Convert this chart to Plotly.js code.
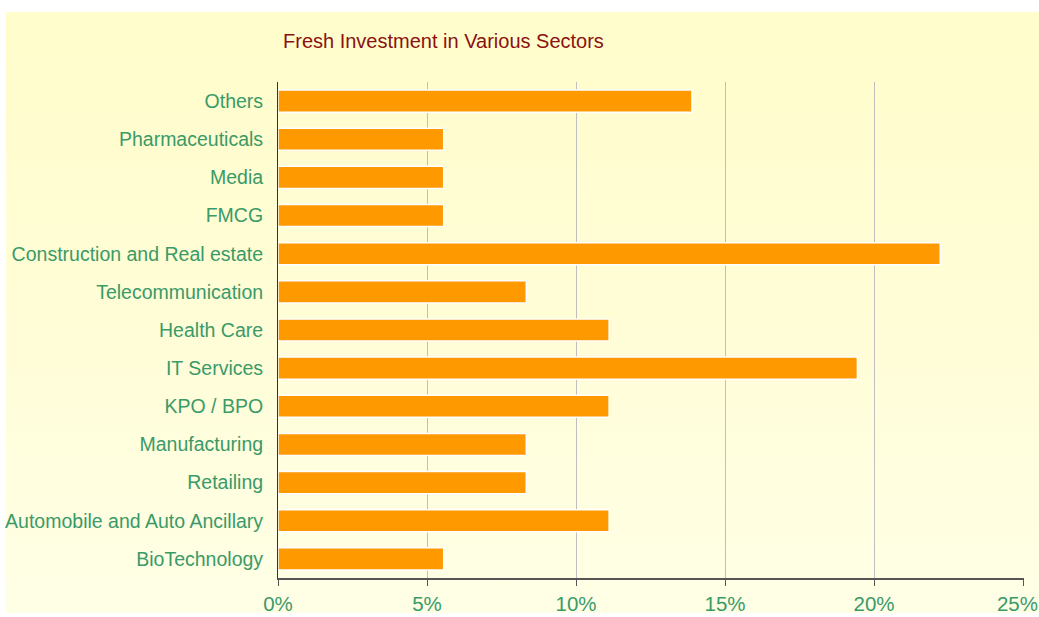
<!DOCTYPE html>
<html>
<head>
<meta charset="utf-8">
<script src="https://cdn.plot.ly/plotly-3.0.1.min.js"></script>
<style>
html, body { margin: 0; padding: 0; background: #ffffff; }
#wrap { position: relative; width: 1039px; height: 617px; }
#bg { position: absolute; left: 6px; top: 12px; width: 1033px; height: 601px;
  background: linear-gradient(to bottom, #FFFDCB 0%, #FFFDD6 50%, #FFFFE6 100%); }
#chart { position: absolute; left: 0; top: 0; width: 1039px; height: 617px; }
</style>
</head>
<body>
<div id="wrap"><div id="bg"></div><div id="chart"></div></div>
<script>
const categories = [
  "BioTechnology",
  "Automobile and Auto Ancillary",
  "Retailing",
  "Manufacturing",
  "KPO / BPO",
  "IT Services",
  "Health Care",
  "Telecommunication",
  "Construction and Real estate",
  "FMCG",
  "Media",
  "Pharmaceuticals",
  "Others"
];
// percent of respondents
const sharesPct = [5.56, 11.11, 8.33, 8.33, 11.11, 19.44, 11.11, 8.33, 22.22, 5.56, 5.56, 5.56, 13.89];
const tickValues = [0, 5, 10, 15, 20, 25];
const tickLabels = ["0%", "5%", "10%", "15%", "20%", "25%"];
const chartTitle = "Fresh Investment in Various Sectors";

// the last label sits at the page edge: pad it so it stays fully visible
const tickText = tickLabels.map((t, i) => i === tickLabels.length - 1 ? t + "\u00A0\u00A0" : t);

const green = "#3A9A68";
const fam = "Liberation Sans, Arial, sans-serif";
const trace = {
  type: "bar",
  orientation: "h",
  y: categories,
  x: sharesPct,
  marker: { color: "#FF9900", line: { color: "#FFFFFF", width: 1.5 } },
  hoverinfo: "y+x"
};

const layout = {
  width: 1039,
  height: 617,
  paper_bgcolor: "rgba(0,0,0,0)",
  plot_bgcolor: "rgba(0,0,0,0)",
  margin: { l: 278, r: 15, t: 82, b: 39 },
  bargap: 0.42,
  showlegend: false,
  font: { family: fam, color: green, size: 19.5 },
  title: {
    text: chartTitle,
    font: { family: fam, color: "#8B1010", size: 20 },
    x: 283 / 1039, xref: "container", xanchor: "left",
    y: 1 - 41 / 617, yref: "container", yanchor: "middle"
  },
  xaxis: {
    range: [0, 25.03],
    tickvals: tickValues,
    ticktext: tickText,
    showgrid: true,
    gridcolor: "#BFBFBF",
    gridwidth: 1,
    zeroline: false,
    showline: true,
    linecolor: "#555555",
    linewidth: 2,
    ticks: "outside",
    ticklen: 6,
    tickcolor: "#555555",
    ticklabeloverflow: "allow",
    tickfont: { family: fam, color: green, size: 20.5 },
    fixedrange: true
  },
  yaxis: {
    type: "category",
    categoryorder: "array",
    categoryarray: categories,
    showline: true,
    linecolor: "#333333",
    linewidth: 1,
    showgrid: false,
    zeroline: false,
    ticks: "",
    ticklabelstandoff: 10,
    tickfont: { family: fam, color: green, size: 19.5 },
    fixedrange: true
  }
};

Plotly.newPlot("chart", [trace], layout, { displayModeBar: false, staticPlot: true });
</script>
</body>
</html>
